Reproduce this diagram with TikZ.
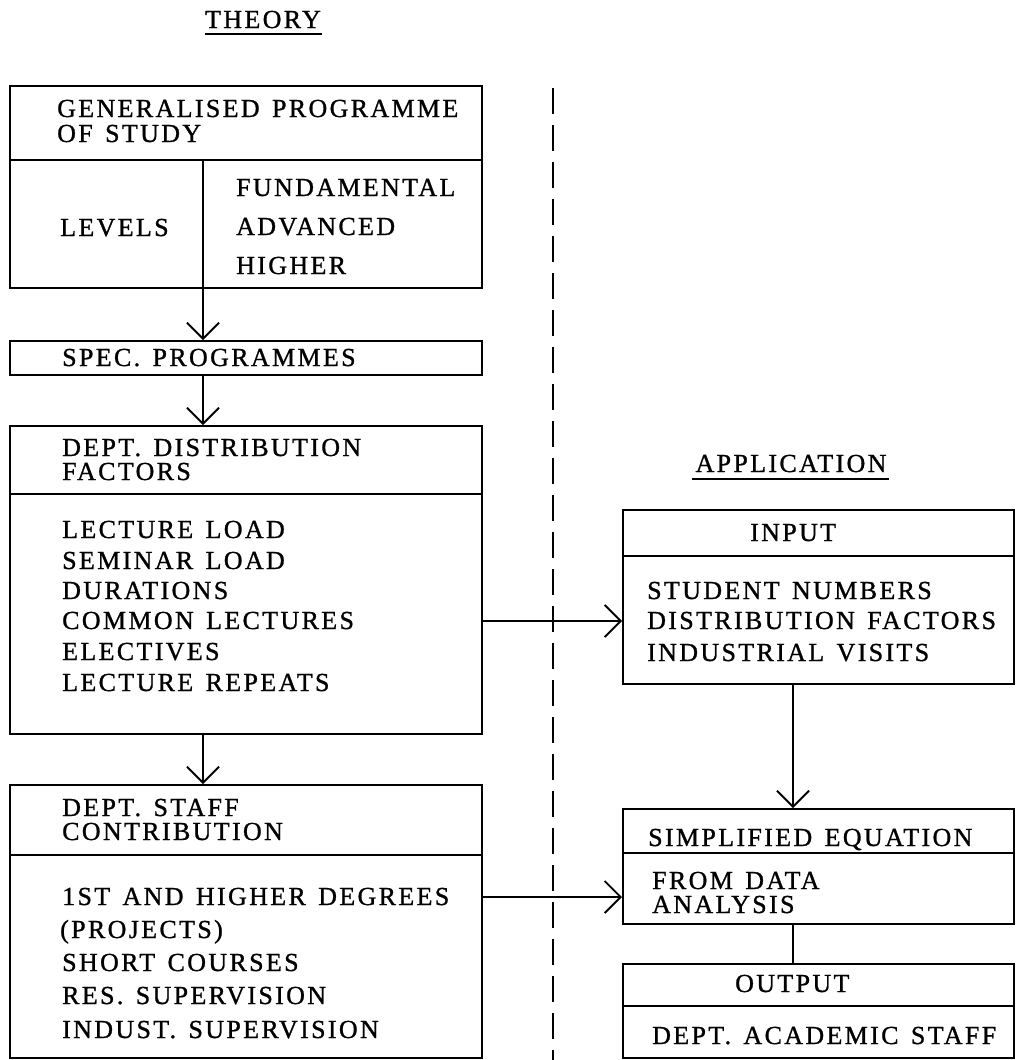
\documentclass[tikz,border=0pt]{standalone}
\usepackage{fontspec}
\setmainfont{Liberation Serif}[LetterSpace=9, WordSpace=1.4, FakeBold=1]
\usetikzlibrary{arrows.meta}
\begin{document}
\begin{tikzpicture}[x=1pt,y=-1pt,
  box/.style={draw, line width=1.8pt, inner sep=0pt, anchor=north west},
  rule/.style={line width=1.8pt},
  txt/.style={anchor=base west, inner sep=0pt, font=\fontsize{26}{26}\selectfont},
  ctxt/.style={anchor=base, inner sep=0pt, font=\fontsize{26}{26}\selectfont},
  arr/.style={line width=1.8pt, -{Straight Barb[length=16pt,width=32pt,line width=1.8pt]}},
  link/.style={line width=1.8pt},
  sep/.style={line width=2pt, dash pattern=on 26pt off 11pt}]
\useasboundingbox (0,0) rectangle (1016,1060);

% column headings
\node[ctxt] (theory) at (263,28) {THEORY};
\draw[line width=1.5pt] (205,34) -- (322,34);
\node[ctxt] (appl) at (791,472) {APPLICATION};
\draw[line width=1.5pt] (692,479) -- (889,479);

% dividing line between the two halves
\draw[sep] (553,88) -- (553,1060);

% ---- theory side ----
\node[box, minimum width=472pt, minimum height=202pt] (gen) at (9,85) {};
\draw[rule] (9,160) -- (481,160);
\draw[rule] (203,160) -- (203,287);
\node[txt] (g1) at (57,117) {GENERALISED PROGRAMME};
\node[txt] (g2) at (57,142) {OF STUDY};
\node[txt] (lev) at (60,236) {LEVELS};
\node[txt] (l1) at (236,196) {FUNDAMENTAL};
\node[txt] (l2) at (236,235) {ADVANCED};
\node[txt] (l3) at (236,274) {HIGHER};

\node[box, minimum width=472pt, minimum height=34pt] (spec) at (9,340) {};
\node[txt] (s1) at (62,366) {SPEC. PROGRAMMES};

\node[box, minimum width=472pt, minimum height=308pt] (dist) at (9,425) {};
\draw[rule] (9,494) -- (481,494);
\node[txt] (d1) at (62,456) {DEPT. DISTRIBUTION};
\node[txt] (d2) at (62,480) {FACTORS};
\node[txt] (f1) at (62,538) {LECTURE LOAD};
\node[txt] (f2) at (62,569) {SEMINAR LOAD};
\node[txt] (f3) at (62,599) {DURATIONS};
\node[txt] (f4) at (62,629) {COMMON LECTURES};
\node[txt] (f5) at (62,660) {ELECTIVES};
\node[txt] (f6) at (62,691) {LECTURE REPEATS};

\node[box, minimum width=472pt, minimum height=273pt] (staff) at (9,784) {};
\draw[rule] (9,855) -- (481,855);
\node[txt] (c1) at (62,816) {DEPT. STAFF};
\node[txt] (c2) at (62,840) {CONTRIBUTION};
\node[txt] (k1) at (62,905) {1ST AND HIGHER DEGREES};
\node[txt] (k2) at (60,938) {(PROJECTS)};
\node[txt] (k3) at (62,971) {SHORT COURSES};
\node[txt] (k4) at (62,1004) {RES. SUPERVISION};
\node[txt] (k5) at (62,1038) {INDUST. SUPERVISION};

% ---- application side ----
\node[box, minimum width=391pt, minimum height=174pt] (input) at (622,509) {};
\draw[rule] (622,556) -- (1013,556);
\node[txt] (i0) at (750,541) {INPUT};
\node[txt] (i1) at (647,599) {STUDENT NUMBERS};
\node[txt] (i2) at (647,629) {DISTRIBUTION FACTORS};
\node[txt] (i3) at (647,661) {INDUSTRIAL VISITS};

\node[box, minimum width=391pt, minimum height=115pt] (simp) at (622,808) {};
\draw[rule] (622,853) -- (1013,853);
\node[txt] (e0) at (648,846) {SIMPLIFIED EQUATION};
\node[txt] (e1) at (652,889) {FROM DATA};
\node[txt] (e2) at (652,913) {ANALYSIS};

\node[box, minimum width=391pt, minimum height=94pt] (output) at (622,963) {};
\draw[rule] (622,1006) -- (1013,1006);
\node[txt] (o0) at (735,992) {OUTPUT};
\node[txt] (o1) at (652,1044) {DEPT. ACADEMIC STAFF};

% ---- connectors ----
\coordinate (laxis) at (203,0);
\coordinate (raxis) at (793,0);
\coordinate (inrow) at (0,621);
\coordinate (eqrow) at (0,897);
\draw[arr] (gen.south -| laxis) -- (spec.north -| laxis);
\draw[arr] (spec.south -| laxis) -- (dist.north -| laxis);
\draw[arr] (dist.south -| laxis) -- (staff.north -| laxis);
\draw[arr] (dist.east |- inrow) -- (input.west |- inrow);
\draw[arr] (staff.east |- eqrow) -- (simp.west |- eqrow);
\draw[arr] (input.south -| raxis) -- (simp.north -| raxis);
\draw[link] (simp.south -| raxis) -- (output.north -| raxis);
\end{tikzpicture}
\end{document}
